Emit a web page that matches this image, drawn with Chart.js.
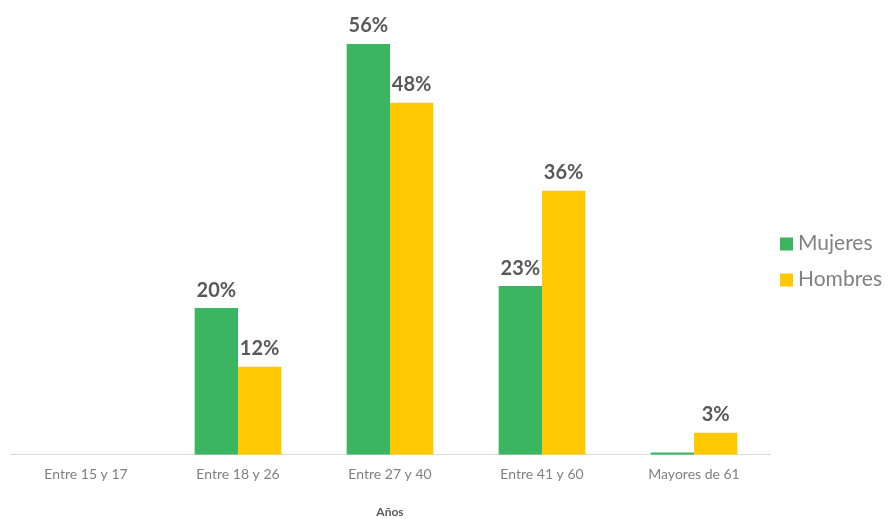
<!DOCTYPE html>
<html>
<head>
<meta charset="utf-8">
<script src="https://cdn.jsdelivr.net/npm/chart.js@4"></script>
<style>
  html, body { margin: 0; padding: 0; background: #ffffff; }
  #wrap { width: 890px; height: 519px; position: relative; }
</style>
</head>
<body>
<div id="wrap"><canvas id="c"></canvas></div>
<script>
// Age groups and share of each group, in percent
const categories = ['Entre 15 y 17', 'Entre 18 y 26', 'Entre 27 y 40', 'Entre 41 y 60', 'Mayores de 61'];
const mujeres = [0, 20, 56, 23, 0.3];
const hombres = [0, 12, 48, 36, 3];
const seriesNames = ['Mujeres', 'Hombres'];
const axisTitle = 'Años';

const FONT = 'Lato, "Open Sans", sans-serif';

// Percent labels above each bar (values under 1% are left unlabelled)
const valueLabels = {
  id: 'valueLabels',
  afterDatasetsDraw(chart) {
    const ctx = chart.ctx;
    ctx.save();
    ctx.font = 'bold 20px ' + FONT;
    ctx.fillStyle = '#595959';
    ctx.textAlign = 'center';
    ctx.textBaseline = 'bottom';
    chart.data.datasets.forEach((ds, i) => {
      const meta = chart.getDatasetMeta(i);
      meta.data.forEach((bar, j) => {
        const v = ds.data[j];
        if (v < 1) return;
        ctx.fillText(Math.round(v) + '%', bar.x, bar.y - 8);
      });
    });
    ctx.restore();
  }
};

// Legend on the right: colour square followed by series name
const sideLegend = {
  id: 'sideLegend',
  afterDraw(chart) {
    const ctx = chart.ctx;
    const x0 = chart.chartArea.right + 10;
    const rowGap = 36;
    const yMid = chart.height / 2 + 2;
    const n = chart.data.datasets.length;
    ctx.save();
    ctx.font = '21px ' + FONT;
    ctx.textBaseline = 'middle';
    ctx.textAlign = 'left';
    chart.data.datasets.forEach((ds, i) => {
      const y = yMid + (i - (n - 1) / 2) * rowGap;
      ctx.fillStyle = ds.backgroundColor;
      ctx.fillRect(x0, y - 6, 13, 13);
      ctx.fillStyle = '#808080';
      ctx.fillText(ds.label, x0 + 18, y);
    });
    ctx.restore();
  }
};

new Chart(document.getElementById('c'), {
  type: 'bar',
  data: {
    labels: categories,
    datasets: [
      { label: seriesNames[0], data: mujeres, backgroundColor: '#3cb563' },
      { label: seriesNames[1], data: hombres, backgroundColor: '#ffc800' }
    ]
  },
  options: {
    responsive: true,
    maintainAspectRatio: false,
    animation: false,
    layout: { padding: { left: 10, right: 120, top: 0, bottom: 0 } },
    datasets: { bar: { barPercentage: 1, categoryPercentage: 0.57 } },
    scales: {
      x: {
        grid: { display: false, drawTicks: false },
        border: { color: '#d9d9d9', width: 1 },
        ticks: { color: '#808080', font: { family: FONT, size: 14 }, padding: 11 },
        title: {
          display: true, text: axisTitle, color: '#595959',
          font: { family: FONT, size: 12, weight: 'bold' }, padding: { top: 11, bottom: 0 }
        }
      },
      y: {
        display: false,
        min: 0,
        max: 62
      }
    },
    plugins: {
      legend: { display: false },
      tooltip: { enabled: false }
    }
  },
  plugins: [valueLabels, sideLegend]
});
</script>
</body>
</html>
